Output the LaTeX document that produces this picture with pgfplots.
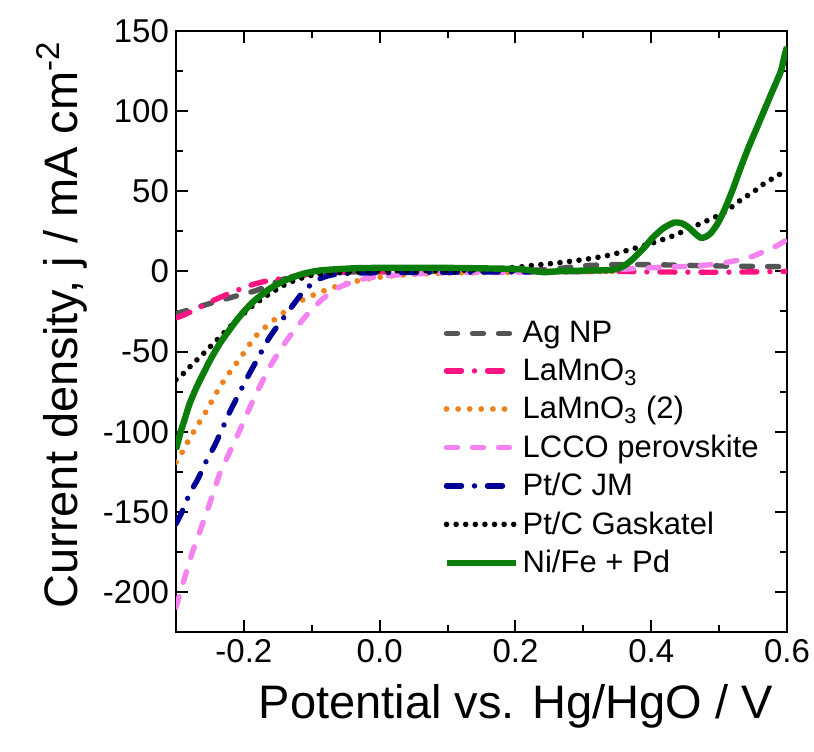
\documentclass[border=0pt]{standalone}
\usepackage{pgfplots}
\pgfplotsset{compat=1.18}
\usepackage{fontspec}
\setmainfont{Liberation Sans}
\definecolor{agc}{RGB}{85,85,85}
\definecolor{lmo}{RGB}{255,20,130}
\definecolor{lmotwo}{RGB}{240,130,30}
\definecolor{lcco}{RGB}{245,130,240}
\definecolor{ptjm}{RGB}{0,0,150}
\definecolor{nife}{RGB}{10,125,10}
\begin{document}
\begin{tikzpicture}
\begin{axis}[name=ax, scale only axis, width=305.5pt, height=300.5pt,
  xmin=-0.3, xmax=0.6, ymin=-225, ymax=150,
  xtick={-0.2,0,0.2,0.4,0.6}, minor xtick={-0.3,-0.1,0.1,0.3,0.5},
  ytick={-200,-150,...,150}, minor ytick={-225,-175,...,125},
  tick align=inside, major tick length=6pt, minor tick length=3.5pt,
  every tick/.style={black, line width=1pt},
  axis line style={line width=1.2pt},
  /pgf/number format/assume math mode=true,
  xticklabel style={/pgf/number format/.cd, fixed, fixed zerofill, precision=1, assume math mode=true},
  yticklabel style={/pgf/number format/.cd, fixed, precision=0, assume math mode=true},
  tick label style={font=\fontsize{16.5}{18}\selectfont},
  label style={font=\fontsize{23.5}{26}\selectfont},
  xlabel={Potential vs. Hg/HgO / V},
  ylabel={Current density, j / mA cm\textsuperscript{-2}},
  xlabel style={at={([yshift=-37pt]axis description cs:0.556,0)}, anchor=center},
  ylabel style={at={([xshift=-57pt]axis description cs:0,0.511)}, anchor=center},
  legend style={draw=none, fill=none, font=\fontsize{15.5}{17}\selectfont,
    at={(0.427,0.531)}, anchor=north west, row sep=2.5pt},
  legend cell align=left,
  legend image code/.code={\draw[#1] (0pt,0pt) -- (34.5pt,0pt);},
  every axis plot/.append style={smooth, tension=0.4, line width=2.7pt},
]
\addplot[agc, line cap=round, dash pattern=on 5.5pt off 7.5pt] coordinates {
(-0.30,-26.4) (-0.27,-22.5) (-0.231,-17.7) (-0.2,-14) (-0.1816,-11.9) (-0.16,-8) (-0.143,-5) (-0.12,-2.8) (-0.095,-1.2) (-0.06,-0.5) (0.0,-0.2) (0.1,0) (0.2,0.5) (0.25,1.2) (0.3,3.5) (0.35,4.3) (0.4,4.2) (0.45,3.8) (0.5,3.4) (0.55,3.1) (0.6,2.9)};
\addlegendentry{Ag NP}
\addplot[lmo, line cap=round, dash pattern=on 7.5pt off 6.5pt on 0pt off 6.5pt] coordinates {
(-0.30,-29) (-0.29,-27.5) (-0.27,-23.5) (-0.25,-19.1) (-0.22,-13.5) (-0.191,-8.7) (-0.17,-6.3) (-0.147,-4.6) (-0.12,-2.6) (-0.09,-1.2) (-0.05,-0.5) (0.0,-0.2) (0.2,0) (0.35,0) (0.4,-0.3) (0.5,-0.5) (0.6,0)};
\addlegendentry{LaMnO\textsubscript{3}}
\addplot[lmotwo, line cap=round, dash pattern=on 0pt off 5.8pt, line width=2.9pt] coordinates {
(-0.30,-119) (-0.2955,-116.5) (-0.287,-109.6) (-0.2788,-103.4) (-0.270,-97.2) (-0.26,-90.5) (-0.248,-81.5) (-0.2356,-72.2) (-0.221,-63) (-0.206,-54.5) (-0.194,-47) (-0.1816,-40) (-0.165,-33.5) (-0.147,-27.5) (-0.1227,-19.8) (-0.093,-13.9) (-0.064,-9.4) (-0.025,-5.2) (0.01,-3.1) (0.05,-1.8) (0.1,-1) (0.2,-0.5) (0.35,0)};
\addlegendentry{LaMnO\textsubscript{3} (2)}
\addplot[lcco, line cap=round, dash pattern=on 5.5pt off 7.5pt] coordinates {
(-0.30,-209.5) (-0.287,-190.8) (-0.275,-174.2) (-0.2626,-159.6) (-0.248,-141.9) (-0.2356,-126.3) (-0.221,-112.8) (-0.206,-99) (-0.1866,-80.5) (-0.162,-59.7) (-0.137,-43.1) (-0.108,-27.5) (-0.0835,-17) (-0.059,-9.8) (-0.0295,-5.2) (0.005,-2.9) (0.05,-1.6) (0.1,-0.8) (0.2,-0.5) (0.3,0) (0.372,1.7) (0.42,2.7) (0.461,3.3) (0.5,4.8) (0.532,7.4) (0.55,9.5) (0.567,12.6) (0.585,16) (0.6,19.8)};
\addlegendentry{LCCO perovskite}
\addplot[ptjm, line cap=round, dash pattern=on 7.5pt off 6.5pt on 0pt off 6.5pt] coordinates {
(-0.30,-157.5) (-0.292,-150.8) (-0.28,-138.8) (-0.2676,-129.4) (-0.255,-118) (-0.243,-108.6) (-0.2308,-97.2) (-0.221,-87.8) (-0.208,-77) (-0.196,-67) (-0.181,-55.5) (-0.162,-41) (-0.137,-26.4) (-0.113,-12.9) (-0.093,-5.6) (-0.074,-2.5) (-0.05,-1.3) (0.0,-0.8) (0.1,-0.5) (0.2,-0.3) (0.3,0)};
\addlegendentry{Pt/C JM}
\addplot[black, line cap=round, dash pattern=on 0pt off 4.8pt, line width=2.8pt] coordinates {
(-0.30,-67.5) (-0.2945,-66) (-0.280,-59.7) (-0.26,-51.4) (-0.2356,-41) (-0.211,-30.6) (-0.1866,-21.2) (-0.162,-13.9) (-0.137,-7.7) (-0.113,-3.9) (-0.088,-1.5) (-0.04,-0.4) (0.0,0.3) (0.106,0.5) (0.15,1.2) (0.2,2.5) (0.224,3.7) (0.26,5.2) (0.307,7.8) (0.34,10.3) (0.372,14) (0.4,17.5) (0.431,22) (0.46,27.5) (0.491,33.3) (0.51,37.5) (0.532,44.6) (0.55,49.5) (0.567,55) (0.585,59.5) (0.6,63.5)};
\addlegendentry{Pt/C Gaskatel}
\addplot[nife, line width=3.2pt] coordinates {
(-0.30,-111) (-0.293,-100) (-0.287,-92) (-0.280,-82.6) (-0.270,-72.5) (-0.260,-63.9) (-0.248,-54) (-0.2356,-45.1) (-0.223,-37.5) (-0.211,-30.6) (-0.199,-24.5) (-0.1866,-19.1) (-0.174,-14.6) (-0.162,-10.8) (-0.150,-7.8) (-0.137,-5.2) (-0.125,-3.2) (-0.113,-1.5) (-0.088,0.6) (-0.04,1.9) (0.0,2.2) (0.1,2.2) (0.2,1.5) (0.224,0.5) (0.242,-0.5) (0.26,0) (0.3,0.5) (0.343,1) (0.36,3.5) (0.372,7.4) (0.39,15) (0.402,21) (0.418,27) (0.434,30.5) (0.445,30) (0.455,27.5) (0.465,23.5) (0.473,21) (0.48,21.5) (0.488,24) (0.498,30) (0.508,38.5) (0.52,51) (0.532,65) (0.544,78) (0.556,90) (0.568,102) (0.579,113) (0.591,125) (0.596,134) (0.6,140)};
\addlegendentry{Ni/Fe + Pd}
\end{axis}
\pgfresetboundingbox
\path[use as bounding box] ([xshift=-88pt,yshift=-59.5pt]ax.south west) rectangle ([xshift=13.5pt,yshift=15.5pt]ax.north east);
\end{tikzpicture}
\end{document}
